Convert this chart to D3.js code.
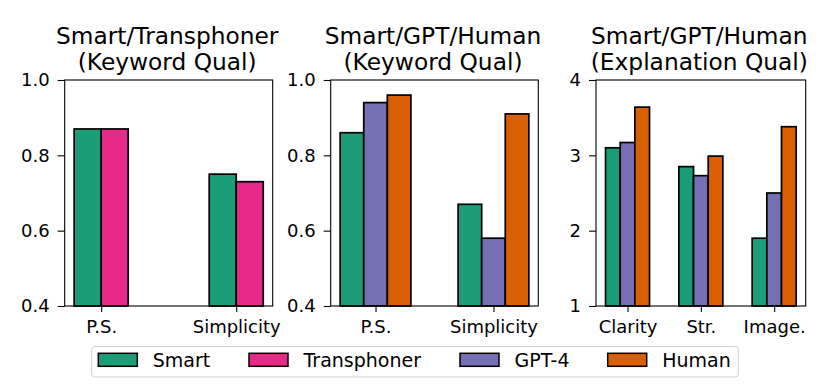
<!DOCTYPE html>
<html>
<head>
<meta charset="utf-8">
<script src="https://cdn.jsdelivr.net/npm/d3@7"></script>
<style>
  body { margin: 0; background: #fff; }
  svg { display: block; font-family: "DejaVu Sans", sans-serif; }
</style>
</head>
<body>
<div id="chart"></div>
<script>
// ---- data ----
const seriesNames = ['Smart', 'Transphoner', 'GPT-4', 'Human'];
const seriesColors = ['#1b9e77', '#e7298a', '#7570b3', '#d95f02'];

const kwCategories = ['P.S.', 'Simplicity'];
const transSmart = [0.87, 0.75];
const transTransphoner = [0.87, 0.73];

const gptSmart = [0.86, 0.67];
const gptGPT4 = [0.94, 0.58];
const gptHuman = [0.96, 0.91];

const explCategories = ['Clarity', 'Str.', 'Image.'];
const explSmart = [3.10, 2.85, 1.90];
const explGPT4 = [3.17, 2.73, 2.50];
const explHuman = [3.64, 2.99, 3.38];

const kwTicks = [0.4, 0.6, 0.8, 1.0];
const explTicks = [1, 2, 3, 4];

const width = 830, height = 388;
const svg = d3.select('#chart').append('svg')
	.attr('width', width)
	.attr('height', height);

const plotTop = 80, plotBottom = 306, barW = 0.2;

const panels = [
	{ left: 64.7, right: 272.7, title: ['Smart/Transphoner', '(Keyword Qual)'],
	  cats: kwCategories, series: [[0, transSmart], [1, transTransphoner]],
	  yDomain: [0.4, 1.0], ticks: kwTicks, fmt: d3.format('.1f') },
	{ left: 330.7, right: 538.3, title: ['Smart/GPT/Human', '(Keyword Qual)'],
	  cats: kwCategories, series: [[0, gptSmart], [2, gptGPT4], [3, gptHuman]],
	  yDomain: [0.4, 1.0], ticks: kwTicks, fmt: d3.format('.1f') },
	{ left: 596, right: 805.7, title: ['Smart/GPT/Human', '(Explanation Qual)'],
	  cats: explCategories, series: [[0, explSmart], [2, explGPT4], [3, explHuman]],
	  yDomain: [1, 4], ticks: explTicks, fmt: d3.format('d') }
];

panels.forEach(p => {
	const n = p.series.length;
	// matplotlib-style x limits: bar extent plus 5% margin
	const lo = -n * barW / 2, hi = p.cats.length - 1 + n * barW / 2;
	const pad = (hi - lo) * 0.05;
	const x = d3.scaleLinear().domain([lo - pad, hi + pad]).range([p.left, p.right]);
	const y = d3.scaleLinear().domain(p.yDomain).range([plotBottom, plotTop]);

	const g = svg.append('g');

	p.series.forEach(([si, vals], j) => {
		const off = (j - (n - 1) / 2) * barW;
		g.selectAll(null)
			.data(vals)
			.enter()
			.append('rect')
			.attr('x', (d, i) => x(i + off - barW / 2))
			.attr('width', (d, i) => x(i + off + barW / 2) - x(i + off - barW / 2))
			.attr('y', d => y(d))
			.attr('height', d => y(p.yDomain[0]) - y(d))
			.attr('fill', seriesColors[si])
			.attr('stroke', '#000')
			.attr('stroke-width', 1.7);
	});

	// frame
	g.append('rect')
		.attr('x', p.left).attr('y', plotTop)
		.attr('width', p.right - p.left).attr('height', plotBottom - plotTop)
		.attr('fill', 'none').attr('stroke', '#000').attr('stroke-width', 1.1);

	const yAxis = d3.axisLeft(y).tickValues(p.ticks).tickFormat(p.fmt)
		.tickSize(7).tickPadding(8);
	const ya = g.append('g').attr('transform', `translate(${p.left},0)`).call(yAxis);
	ya.select('.domain').remove();

	const xAxis = d3.axisBottom(x).tickValues(d3.range(p.cats.length))
		.tickFormat(i => p.cats[i]).tickSize(6).tickPadding(8);
	const xa = g.append('g').attr('transform', `translate(0,${plotBottom})`).call(xAxis);
	xa.select('.domain').remove();

	[ya, xa].forEach(a => {
		a.selectAll('text').attr('font-size', 18).attr('fill', '#000')
			.attr('font-family', '"DejaVu Sans", sans-serif');
		a.selectAll('line').attr('stroke', '#000').attr('stroke-width', 1.1);
	});

	const cx = (p.left + p.right) / 2 - 1.5;
	g.append('text')
		.attr('x', cx).attr('y', 44)
		.attr('text-anchor', 'middle').attr('font-size', 23.3)
		.text(p.title[0]);
	g.append('text')
		.attr('x', cx).attr('y', 70)
		.attr('text-anchor', 'middle').attr('font-size', 23.3)
		.text(p.title[1]);
});

// ---- legend ----
const legend = svg.append('g');
legend.append('rect')
	.attr('x', 91.7).attr('y', 346.5)
	.attr('width', 738.3 - 91.7).attr('height', 30.5)
	.attr('rx', 3)
	.attr('fill', '#fff').attr('stroke', '#d0d0d0').attr('stroke-width', 1);

const legendX = [98.3, 249, 460, 607.7];
seriesNames.forEach((name, i) => {
	legend.append('rect')
		.attr('x', legendX[i]).attr('y', 353.3)
		.attr('width', 39).attr('height', 13)
		.attr('fill', seriesColors[i])
		.attr('stroke', '#000').attr('stroke-width', 1.5);
	legend.append('text')
		.attr('x', legendX[i] + 54.5).attr('y', 366.5)
		.attr('font-size', 19)
		.text(name);
});
</script>
</body>
</html>
